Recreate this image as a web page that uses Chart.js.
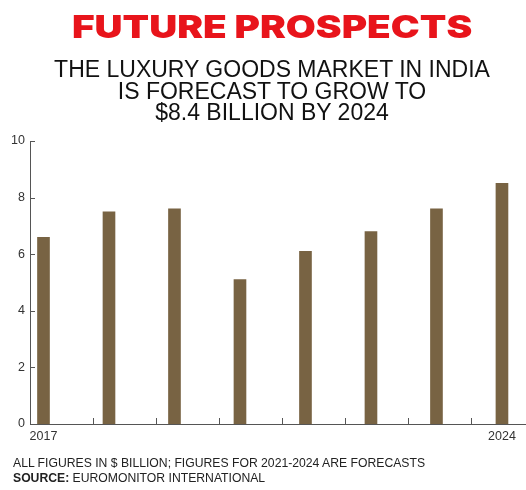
<!DOCTYPE html>
<html>
<head>
<meta charset="utf-8">
<script src="https://cdn.jsdelivr.net/npm/chart.js@4.4.1/dist/chart.umd.min.js"></script>
<style>
  html, body { margin: 0; padding: 0; background: #fff; }
  body { position: relative; width: 526px; height: 490px; overflow: hidden; font-family: "Liberation Sans", Arial, sans-serif; color: #111; }
  #wrap { position: absolute; left: 0; top: 0; width: 526px; height: 490px; }
  .line { position: absolute; left: 18px; width: 508px; text-align: center; white-space: nowrap; }
  #title { top: 10px; font-family: Inter, "Liberation Sans", sans-serif; font-weight: 900; font-size: 31px; line-height: 34px; color: #e8141b; }
  #title span { display: inline-block; transform: scaleX(1.25); }
  .sub { font-size: 23px; line-height: 24px; color: #111; }
  #sub1 { top: 57px; }
  #sub2 { top: 78.5px; }
  #sub3 { top: 100px; }
  .foot { position: absolute; left: 13px; font-size: 12.2px; line-height: 14px; color: #222; white-space: nowrap; }
  #foot1 { top: 456px; }
  #foot2 { top: 471px; }
</style>
</head>
<body>
<div id="wrap"><canvas id="myChart"></canvas></div>
<div class="line" id="title"><span>FUTURE PROSPECTS</span></div>
<div class="line sub" id="sub1">THE LUXURY GOODS MARKET IN INDIA</div>
<div class="line sub" id="sub2">IS FORECAST TO GROW TO</div>
<div class="line sub" id="sub3">$8.4 BILLION BY 2024</div>
<div class="foot" id="foot1">ALL FIGURES IN $ BILLION; FIGURES FOR 2021-2024 ARE FORECASTS</div>
<div class="foot" id="foot2"><b>SOURCE:</b> EUROMONITOR INTERNATIONAL</div>
<script>
// market size, $ billion
const years = [2017, 2018, 2019, 2020, 2021, 2022, 2023, 2024];
const values = [6.6, 7.5, 7.6, 5.1, 6.1, 6.8, 7.6, 8.5];
const yTicks = [0, 2, 4, 6, 8, 10];
const xLabelYears = [2017, 2024];
// little tick marks along the bottom axis (they don't sit between the bars in the original)
const xTickMarks = [2017.76, 2018.72, 2019.68, 2020.64, 2021.6, 2022.57, 2023.53];

const axisColor = '#555';
const barColor = '#786343';

const innerTicks = {
    id: 'innerTicks',
    afterDatasetsDraw(chart) {
        const { ctx } = chart;
        const x = chart.scales.x, y = chart.scales.y;
        ctx.save();
        ctx.strokeStyle = axisColor;
        ctx.lineWidth = 1;
        yTicks.forEach(v => {
            if (v === 0) return;
            const py = Math.round(y.getPixelForValue(v)) + 0.5;
            ctx.beginPath();
            ctx.moveTo(x.left, py);
            ctx.lineTo(x.left + 5, py);
            ctx.stroke();
        });
        xTickMarks.forEach(v => {
            const px = Math.round(x.getPixelForValue(v)) + 0.5;
            ctx.beginPath();
            ctx.moveTo(px, y.bottom - 6);
            ctx.lineTo(px, y.bottom + 1);
            ctx.stroke();
        });
        ctx.restore();
    }
};

const ctx = document.getElementById('myChart').getContext('2d');
const tickFont = { family: '"Liberation Sans", Arial, sans-serif', size: 12.5 };

new Chart(ctx, {
    type: 'bar',
    data: {
        datasets: [{
            data: years.map((yr, i) => ({ x: yr, y: values[i] })),
            backgroundColor: barColor,
            borderWidth: 0,
            barThickness: 12,
        }]
    },
    options: {
        responsive: true,
        maintainAspectRatio: false,
        animation: false,
        plugins: {
            legend: { display: false },
            tooltip: { enabled: false },
        },
        layout: {
            padding: { top: 141, left: 0, right: 0, bottom: 46 }
        },
        scales: {
            x: {
                type: 'linear',
                offset: false,
                min: 2016.794,
                max: 2024.367,
                grid: { display: false, drawTicks: false, offset: false },
                border: { display: true, color: axisColor, width: 1 },
                afterBuildTicks: scale => {
                    scale.ticks = xLabelYears.map(v => ({ value: v }));
                },
                afterFit: scale => { scale.height = 20; },
                ticks: {
                    autoSkip: false,
                    maxRotation: 0,
                    padding: 5,
                    color: '#333',
                    font: tickFont,
                    callback: v => String(v),
                },
            },
            y: {
                min: 0,
                max: 10,
                grid: { display: false, drawTicks: false },
                border: { display: true, color: axisColor, width: 1 },
                afterBuildTicks: scale => {
                    scale.ticks = yTicks.map(v => ({ value: v }));
                },
                afterFit: scale => { scale.width = 30; },
                ticks: {
                    padding: 5,
                    color: '#333',
                    font: tickFont,
                },
            }
        }
    },
    plugins: [innerTicks]
});
</script>
</body>
</html>
